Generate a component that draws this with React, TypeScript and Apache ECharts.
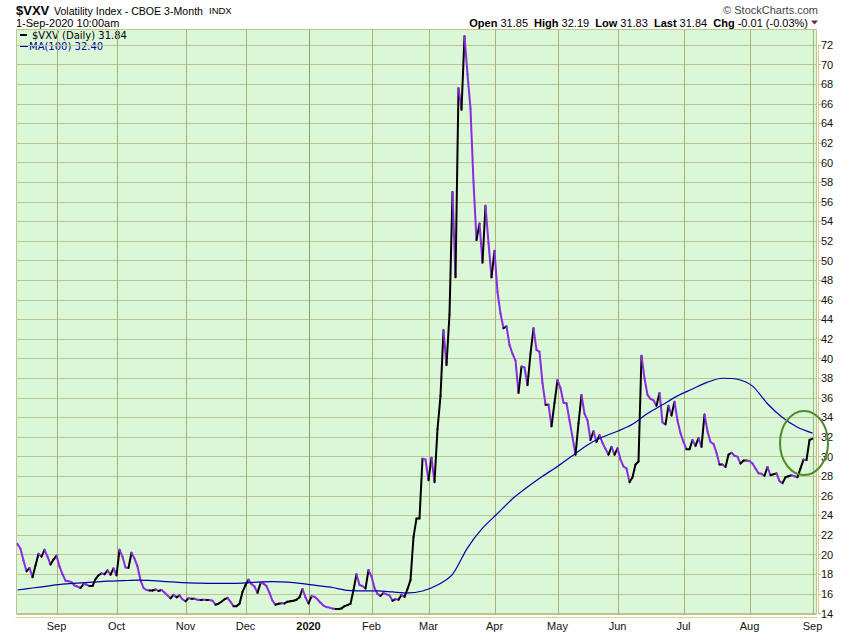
import React, { useEffect, useRef } from "react";
import * as echarts from "echarts";

// ---- data ----
const FIRST_DAY = "2019-08-14";
const LAST_DAY = "2020-09-01";
const HOLIDAYS = [
  "2019-09-02", "2019-11-28", "2019-12-25", "2020-01-01", "2020-01-20",
  "2020-02-17", "2020-04-10", "2020-05-25", "2020-07-03",
];
const MONTH_LABELS = ["Jan", "Feb", "Mar", "Apr", "May", "Jun", "Jul", "Aug", "Sep", "Oct", "Nov", "Dec"];

// $VXV daily closes, one per trading day
const vxvDaily = [
  21.1, 20.6, 19.4, 18.3, 18.65, 17.7, 18.9, 20.1, 19.8, 20.5,
  19.8, 19.0, 19.5, 19.9, 18.8, 18.0, 17.35, 17.3, 17.2, 16.85,
  16.75, 16.6, 17.0, 16.95, 16.8, 16.8, 17.5, 17.9, 18.1, 18.0,
  18.4, 17.95, 18.6, 17.9, 20.5, 19.8, 18.7, 18.65, 20.2, 19.6,
  18.8, 17.4, 16.6, 16.4, 16.35, 16.35, 16.45, 16.3, 16.4, 16.15,
  15.85, 15.55, 15.9, 15.65, 15.85, 15.45, 15.25, 15.55, 15.5, 15.5,
  15.4, 15.37, 15.4, 15.37, 15.37, 15.3, 14.9, 15.0, 15.2, 15.45,
  15.6, 15.2, 14.75, 14.75, 15.0, 16.2, 16.9, 17.45, 17.0, 16.75,
  16.1, 17.1, 17.05, 16.8, 16.1, 15.3, 14.9, 15.0, 15.05, 15.03,
  15.2, 15.25, 15.3, 15.4, 15.65, 16.5, 15.65, 15.03, 15.75, 15.7,
  15.45, 15.1, 14.8, 14.65, 14.6, 14.5, 14.45, 14.45, 14.52, 14.75,
  14.85, 15.0, 16.4, 18.0, 16.9, 16.8, 16.55, 18.43, 17.8, 16.6,
  16.0, 15.8, 16.1, 15.95, 15.85, 15.3, 15.47, 15.4, 15.9, 15.7,
  16.5, 17.4, 21.8, 23.7, 23.7, 29.8, 29.7, 27.6, 29.9, 27.4,
  32.8, 36.2, 42.9, 39.35, 44.5, 57.0, 48.3, 67.6, 65.4, 72.9,
  69.0, 65.5, 58.0, 52.1, 53.8, 49.8, 55.6, 51.8, 48.3, 51.0,
  46.8, 44.6, 43.1, 43.3, 41.4, 40.5, 39.8, 36.5, 39.2, 39.1,
  37.3, 40.5, 43.1, 40.9, 40.7, 37.5, 35.3, 35.3, 33.1, 35.5,
  37.8, 37.0, 35.5, 35.45, 33.7, 32.0, 30.2, 33.4, 36.3, 34.4,
  33.7, 31.7, 32.6, 31.5, 32.2, 31.4, 30.8, 30.2, 31.0, 30.2,
  30.85, 29.7, 29.0, 28.8, 27.4, 27.9, 29.2, 29.5, 40.3, 38.0,
  36.3, 35.9, 35.75, 35.2, 36.5, 33.5, 33.3, 35.2, 34.2, 35.6,
  33.7, 32.4, 31.5, 30.75, 30.75, 31.7, 31.1, 31.9, 31.0, 34.3,
  32.6, 31.5, 31.3, 30.4, 29.2, 29.2, 28.95, 30.2, 30.4, 30.1,
  30.0, 29.3, 29.6, 29.6, 29.55, 29.3, 28.8, 28.3, 28.25, 28.05,
  28.95, 28.1, 28.2, 28.3, 27.5, 27.3, 27.9, 28.0, 28.1, 28.0,
  27.9, 28.8, 29.7, 29.65, 31.7, 31.84,
];

// MA(100) at every fifth trading day (index into trading days)
const maIndex = [
  0, 5, 10, 15, 20, 25, 30, 35, 40, 45, 50, 55, 60, 65, 70, 75, 80, 85, 90, 95,
  100, 105, 110, 115, 120, 125, 130, 135, 140, 145, 150, 155, 160, 165, 170, 175,
  180, 185, 190, 195, 200, 205, 210, 215, 220, 225, 230, 235, 240, 245, 250, 255, 260, 265,
];
const maValues = [
  16.4, 16.6, 16.8, 17.0, 17.1, 17.2, 17.3, 17.35, 17.4, 17.35, 17.25, 17.15, 17.1, 17.07,
  17.07, 17.1, 17.2, 17.25, 17.2, 17.05, 16.85, 16.65, 16.35, 16.3, 16.3, 16.2, 16.1, 16.3,
  16.9, 18.0, 20.7, 22.7, 24.2, 25.7, 26.9, 28.0, 29.0, 30.1, 31.2, 32.0, 32.6, 33.3, 34.4,
  35.3, 36.2, 36.9, 37.6, 38.0, 37.9, 37.2, 35.4, 34.0, 33.0, 32.4,
];

const Y_MIN = 14;
const Y_MAX = 72;
const Y_STEP = 2;

function buildTradingDays(first: string, last: string, holidays: string[]): string[] {
  const out: string[] = [];
  const end = Date.parse(last + "T00:00:00Z");
  for (let t = Date.parse(first + "T00:00:00Z"); t <= end; t += 86400000) {
    const d = new Date(t);
    const wd = d.getUTCDay();
    const s = d.toISOString().slice(0, 10);
    if (wd === 0 || wd === 6 || holidays.includes(s)) continue;
    out.push(s);
  }
  return out;
}

const tradingDays = buildTradingDays(FIRST_DAY, LAST_DAY, HOLIDAYS);
const monthStartIdx: number[] = [];
tradingDays.forEach((d, i) => {
  if (i > 0 && d.slice(0, 7) !== tradingDays[i - 1].slice(0, 7)) monthStartIdx.push(i);
});
const monthStartSet = new Set(monthStartIdx);

const PURPLE = "#8a2be2";
const BLACK = "#000000";
const MA_BLUE = "#0000a8";

export default function App() {
  const ref = useRef<HTMLDivElement>(null);
  useEffect(() => {
    document.body.style.margin = "0";
    if (!ref.current) return;
    const chart = echarts.init(ref.current, undefined, { renderer: "svg" });
    const font = "Liberation Sans";
    const option: any = {
      animation: false,
      backgroundColor: "#ffffff",
      grid: { left: 16, right: 33, top: 45, bottom: 19.5, containLabel: false },
      xAxis: {
        type: "category",
        data: [...tradingDays, ""],
        boundaryGap: true,
        offset: 4,
        axisLine: { show: true, lineStyle: { color: "#d2c68e", type: "dotted", width: 1 } },
        axisTick: { show: false },
        splitLine: { show: false },
        axisLabel: {
          interval: (index: number) => monthStartSet.has(index),
          margin: 3,
          color: "#111",
          fontFamily: font,
          fontSize: 11,
          formatter: (value: string) => {
            if (!value) return "";
            const [y, m] = value.split("-");
            if (m === "01") return "{b|" + y + "}";
            return MONTH_LABELS[Number(m) - 1];
          },
          rich: { b: { fontWeight: "bold", fontFamily: font, fontSize: 11, color: "#111" } },
        },
      },
      yAxis: {
        type: "value",
        position: "right",
        min: Y_MIN,
        max: Y_MAX,
        interval: Y_STEP,
        offset: 1,
        axisLine: { show: true, lineStyle: { color: "#d2c68e", type: "dotted" } },
        axisTick: { show: true, length: 3, lineStyle: { color: "#c8bd80" } },
        axisLabel: { margin: 3, color: "#111", fontFamily: font, fontSize: 11 },
        splitLine: { show: true, lineStyle: { color: "#bdc68f", width: 1 } },
      },
      series: [
        {
          type: "custom",
          name: "months",
          silent: true,
          z: 1,
          clip: false,
          data: monthStartIdx.map((i) => [i, Y_MIN]),
          encode: { x: 0, y: 1 },
          renderItem: (params: any, api: any) => {
            const idx = api.value(0) as number;
            const x = Math.round(api.coord([idx, Y_MIN])[0]) + 0.5;
            const isYear = tradingDays[idx] && tradingDays[idx].slice(5, 7) === "01";
            return {
              type: "line",
              shape: { x1: x, y1: 30, x2: x, y2: 615 },
              style: { stroke: isYear ? "#9c9c60" : "#aeb078", lineWidth: 1 },
            };
          },
        },
        {
          type: "custom",
          name: "$VXV",
          z: 3,
          clip: false,
          data: vxvDaily.map((v, i) => [i, v, i > 0 ? vxvDaily[i - 1] : v]),
          encode: { x: 0, y: 1 },
          renderItem: (params: any, api: any) => {
            const i = api.value(0) as number;
            if (i === 0) return null;
            const v = api.value(1) as number;
            const p = api.value(2) as number;
            const a = api.coord([i - 1, p]);
            const b = api.coord([i, v]);
            return {
              type: "line",
              shape: { x1: a[0], y1: a[1], x2: b[0], y2: b[1] },
              style: { stroke: v < p ? PURPLE : BLACK, lineWidth: 2, lineCap: "round" },
            };
          },
        },
        {
          type: "line",
          name: "MA(100)",
          z: 4,
          data: maIndex.map((i, k) => [i, maValues[k]]),
          symbol: "none",
          showSymbol: false,
          smooth: 0.3,
          lineStyle: { color: MA_BLUE, width: 1.2 },
        },
      ],
      graphic: [
        {
          type: "rect",
          z: -10,
          silent: true,
          shape: { x: 16.5, y: 29.5, width: 800, height: 585 },
          style: { fill: "#daf7d7", stroke: "#c2c28a", lineWidth: 1 },
        },
        {
          type: "text", x: 16, y: 10,
          style: { text: "$VXV", fill: "#000", font: `bold 13px "${font}"`, verticalAlign: "middle" },
        },
        {
          type: "text", x: 54, y: 10.5,
          style: { text: "Volatility Index - CBOE 3-Month", fill: "#000", font: `10.6px "${font}"`, verticalAlign: "middle" },
        },
        {
          type: "text", x: 209, y: 10.5,
          style: { text: "INDX", fill: "#000", font: `9.5px "${font}"`, verticalAlign: "middle" },
        },
        {
          type: "text", x: 16, y: 23,
          style: { text: "1-Sep-2020 10:00am", fill: "#000", font: `11px "${font}"`, verticalAlign: "middle" },
        },
        {
          type: "text", x: 818, y: 9.5,
          style: { text: "\u00a9 StockCharts.com", fill: "#444", font: `11px "${font}"`, align: "right", verticalAlign: "middle" },
        },
        {
          type: "text", x: 808, y: 23,
          style: {
            text: "{k|Open} 31.85  {k|High} 32.19  {k|Low} 31.83  {k|Last} 31.84  {k|Chg} -0.01 (-0.03%)",
            fill: "#000",
            font: `11px "${font}"`,
            align: "right",
            verticalAlign: "middle",
            rich: { k: { fontWeight: "bold", fontFamily: font, fontSize: 11, fill: "#000" } },
          },
        },
        {
          type: "polygon",
          shape: { points: [[811, 20.5], [818, 20.5], [814.5, 24.5]] },
          style: { fill: "#6e2b3c" },
        },
        { type: "rect", shape: { x: 20, y: 34, width: 7, height: 2 }, style: { fill: BLACK } },
        {
          type: "text", x: 32, y: 35.5,
          style: { text: "$VXV (Daily) 31.84", fill: "#000", font: `10px "DejaVu Sans"`, verticalAlign: "middle" },
        },
        { type: "rect", shape: { x: 20, y: 45, width: 8, height: 2 }, style: { fill: MA_BLUE } },
        {
          type: "text", x: 29, y: 46,
          style: { text: "MA(100) 32.40", fill: MA_BLUE, font: `10px "DejaVu Sans"`, verticalAlign: "middle" },
        },
        {
          type: "ellipse",
          z: 50,
          shape: { cx: 804, cy: 443, rx: 24, ry: 32 },
          style: { fill: "transparent", stroke: "#4f8a2b", lineWidth: 2 },
        },
      ],
    };
    chart.setOption(option);
    return () => chart.dispose();
  }, []);
  return (
    <div
      ref={ref}
      style={{ position: "fixed", left: 0, top: 0, width: 850, height: 633, background: "#fff" }}
    />
  );
}
